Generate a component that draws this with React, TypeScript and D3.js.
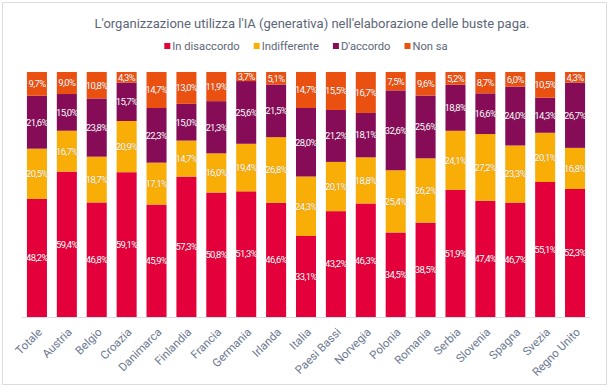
import React, { useEffect, useRef } from 'react';
import * as d3 from 'd3';

const countries = [
  'Totale', 'Austria', 'Belgio', 'Croazia', 'Danimarca', 'Finlandia', 'Francia', 'Germania',
  'Irlanda', 'Italia', 'Paesi Bassi', 'Norvegia', 'Polonia', 'Romania', 'Serbia', 'Slovenia',
  'Spagna', 'Svezia', 'Regno Unito',
];

const seriesNames = ['In disaccordo', 'Indifferente', "D'accordo", 'Non sa'];
const seriesColors = ['#e4003a', '#f8ad07', '#870c58', '#ea5010'];

const inDisaccordo = [48.2, 59.4, 46.8, 59.1, 45.9, 57.3, 50.8, 51.3, 46.6, 33.1, 43.2, 46.3, 34.5, 38.5, 51.9, 47.4, 46.7, 55.1, 52.3];
const indifferente = [20.5, 16.7, 18.7, 20.9, 17.1, 14.7, 16.0, 19.4, 26.8, 24.3, 20.1, 18.8, 25.4, 26.2, 24.1, 27.2, 23.3, 20.1, 16.8];
const dAccordo = [21.6, 15.0, 23.8, 15.7, 22.3, 15.0, 21.3, 25.6, 21.5, 28.0, 21.2, 18.1, 32.6, 25.6, 18.8, 16.6, 24.0, 14.3, 26.7];
const nonSa = [9.7, 9.0, 10.8, 4.3, 14.7, 13.0, 11.9, 3.7, 5.1, 14.7, 15.5, 16.7, 7.5, 9.6, 5.2, 8.7, 6.0, 10.5, 4.3];

const title = "L'organizzazione utilizza l'IA (generativa) nell'elaborazione delle buste paga.";

const W = 609;
const H = 387;
const FONT = 'Roboto, "Noto Sans", sans-serif';

export default function App() {
  const ref = useRef<SVGSVGElement | null>(null);

  useEffect(() => {
    if (!ref.current) return;
    const svg = d3.select(ref.current);
    svg.selectAll('*').remove();

    const rows = countries.map((c, i) => ({
      country: c,
      [seriesNames[0]]: inDisaccordo[i],
      [seriesNames[1]]: indifferente[i],
      [seriesNames[2]]: dAccordo[i],
      [seriesNames[3]]: nonSa[i],
    }));

    const x = d3.scaleBand<string>()
      .domain(countries)
      .range([22, 590])
      .paddingInner(0.33)
      .paddingOuter(0.165);

    const y = d3.scaleLinear().domain([0, 1]).range([317, 72]);

    const stack = d3.stack<any>()
      .keys(seriesNames)
      .offset(d3.stackOffsetExpand);
    const layers = stack(rows);

    // frame
    svg.append('rect')
      .attr('x', 2.5).attr('y', 2.5)
      .attr('width', W - 5).attr('height', H - 5)
      .attr('fill', '#fff')
      .attr('stroke', '#dcdcdc');

    // title
    svg.append('text')
      .attr('x', 312).attr('y', 28)
      .attr('text-anchor', 'middle')
      .attr('font-family', FONT)
      .attr('font-size', 13)
      .attr('fill', '#5c6678')
      .text(title);

    // legend
    const legend = svg.append('g').attr('font-family', FONT).attr('font-size', 11.2);
    let lx = 0;
    seriesNames.forEach((name, i) => {
      const g = legend.append('g').attr('transform', `translate(${lx},0)`);
      g.append('rect').attr('x', 0).attr('y', -3).attr('width', 6).attr('height', 6).attr('fill', seriesColors[i]);
      const t = g.append('text').attr('x', 8).attr('y', 0).attr('dy', '0.35em').attr('fill', '#5c6678').text(name);
      const w = (t.node() as SVGTextElement).getComputedTextLength();
      lx += 8 + w + 14;
    });
    const legendW = lx - 14;
    legend.attr('transform', `translate(${306 - legendW / 2},46)`);

    // bars
    layers.forEach((layer, li) => {
      const g = svg.append('g');
      g.selectAll('rect')
        .data(layer)
        .join('rect')
        .attr('x', (d: any) => x(d.data.country)!)
        .attr('y', (d: any) => y(d[1]))
        .attr('width', x.bandwidth())
        .attr('height', (d: any) => y(d[0]) - y(d[1]))
        .attr('fill', seriesColors[li]);

      g.selectAll('text')
        .data(layer)
        .join('text')
        .attr('x', (d: any) => x(d.data.country)! + x.bandwidth() / 2)
        .attr('y', (d: any) => (y(d[0]) + y(d[1])) / 2)
        .attr('dy', '0.35em')
        .attr('text-anchor', 'middle')
        .attr('font-family', FONT)
        .attr('font-size', 9.5)
        .attr('letter-spacing', -0.6)
        .attr('fill', '#fff')
        .attr('stroke', 'rgba(0,0,0,0.2)')
        .attr('stroke-width', 0.5)
        .attr('paint-order', 'stroke')
        .text((d: any) => d3.format('.1f')(d.data[seriesNames[li]]).replace('.', ',') + '%');
    });

    // baseline
    svg.append('line')
      .attr('x1', 22).attr('x2', 590)
      .attr('y1', 317.5).attr('y2', 317.5)
      .attr('stroke', '#d8dce6');

    // x labels
    svg.append('g')
      .selectAll('text')
      .data(countries)
      .join('text')
      .attr('transform', (d) => `translate(${x(d)! + x.bandwidth() / 2 + 3},${330}) rotate(-45)`)
      .attr('text-anchor', 'end')
      .attr('dy', '0.35em')
      .attr('font-family', FONT)
      .attr('font-size', 11.5)
      .attr('fill', '#6b7890')
      .text((d) => d);
  }, []);

  return <svg ref={ref} width={W} height={H} style={{ display: 'block', position: 'absolute', left: 0, top: 0 }} />;
}
